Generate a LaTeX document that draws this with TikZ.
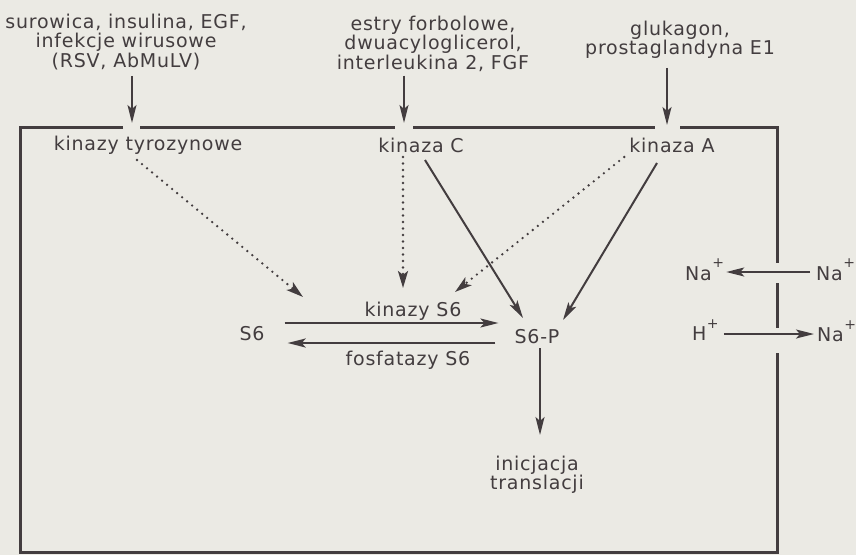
\documentclass[tikz,border=0pt]{standalone}
\usepackage{fontspec}
\setmainfont{DejaVu Sans}[LetterSpace=4]
\usetikzlibrary{arrows.meta}
\definecolor{ink}{HTML}{433D3F}
\definecolor{paper}{HTML}{EBEAE4}
\newcommand\ionplus[1]{\kern0.5pt\raisebox{#1}{\fontsize{14}{14}\selectfont+}}
\begin{document}
\begin{tikzpicture}[x=1pt,y=-1pt,
  txt/.style={inner sep=0pt,text=ink,font=\fontsize{19}{19.5}\selectfont},
  arr/.style={draw=ink,line width=2pt,-{Stealth[length=18pt,width=9pt,inset=4pt]}},
  dotarr/.style={draw=ink,line width=2.6pt,line cap=round,dash pattern=on 0pt off 6.5pt,-{Stealth[length=17pt,width=10pt,inset=4pt]}},
  wall/.style={draw=ink,line width=3pt}]
\fill[paper] (0,0) rectangle (856,555);
\useasboundingbox (0,0) rectangle (856,555);

% cell membrane
\draw[wall] (123,127) -- (20,127) -- (20,552) -- (777,552) -- (777,353);
\draw[wall] (140,127) -- (395,127);
\draw[wall] (413,127) -- (655,127);
\draw[wall] (680,127) -- (777,127) -- (777,263);
\draw[wall] (777,283) -- (777,328);

% outside signals
\node[txt,align=center,anchor=north] (src1) at (126,13.5) {surowica, insulina, EGF,\\infekcje wirusowe\\(RSV, AbMuLV)};
\node[txt,align=center,anchor=north] (src2) at (433,15.5) {estry forbolowe,\\dwuacyloglicerol,\\interleukina 2, FGF};
\node[txt,align=center,anchor=north] (src3) at (680,20.5) {glukagon,\\prostaglandyna E1};
\coordinate (g1) at (132,123);
\coordinate (g2) at (404,123);
\coordinate (g3) at (667,125);
\draw[arr,shorten <=6pt] (src1.south -| g1) -- (g1);
\draw[arr,shorten <=4pt] (src2.south -| g2) -- (g2);
\draw[arr,shorten <=9pt] (src3.south -| g3) -- (g3);

% inside
\node[txt,anchor=base] (kT) at (148,150) {kinazy tyrozynowe};
\node[txt,anchor=base] (kC) at (421,152) {kinaza C};
\node[txt,anchor=base] (kA) at (672,152) {kinaza A};
\node[txt,anchor=base] (kS) at (413,316) {kinazy S6};
\node[txt,anchor=base] (S6) at (252,340) {S6};
\node[txt,anchor=base] (S6P) at (537,343) {S6-P};
\node[txt,anchor=base] (fS) at (408,365) {fosfatazy S6};
\node[txt,align=center,anchor=north] (ini) at (537,455.5) {inicjacja\\translacji};
\node[txt,anchor=base west] (NaL) at (685,280) {Na\ionplus{13pt}};
\node[txt,anchor=base west] (NaR) at (816,280) {Na\ionplus{13pt}};
\node[txt,anchor=base west] (H) at (692,340) {H\ionplus{12pt}};
\node[txt,anchor=base west] (NaR2) at (817,341) {Na\ionplus{12pt}};

\coordinate (d1) at (303,297);
\coordinate (d2) at (403,288);
\coordinate (d3) at (455,292);
\draw[dotarr] ([shift={(-11,10)}]kT.base) -- (d1);
\draw[dotarr] ([shift={(-18,5)}]kC.base) -- (d2);
\draw[dotarr] ([shift={(-5,5)}]kA.base west) -- (d3);
\draw[arr] ([shift={(4,8)}]kC.base) -- ([shift={(-14,-25)}]S6P.base);
\draw[arr] ([shift={(-15,11)}]kA.base) -- ([shift={(26,-23)}]S6P.base);

\draw[arr] ([shift={(20,-17)}]S6.base east) -- ([shift={(-16,-20)}]S6P.base west);
\draw[arr] ([shift={(-19,0)}]S6P.base west) -- ([shift={(23,3)}]S6.base east);
\draw[arr] ([shift={(3,5)}]S6P.south) -- ([shift={(3,-20.5)}]ini.north);

\draw[arr] ([shift={(-6,-8)}]NaR.base west) -- ([shift={(2,-8)}]NaL.base east);
\draw[arr] ([shift={(5,-6)}]H.base east) -- ([shift={(-3,-7)}]NaR2.base west);
\end{tikzpicture}
\end{document}
